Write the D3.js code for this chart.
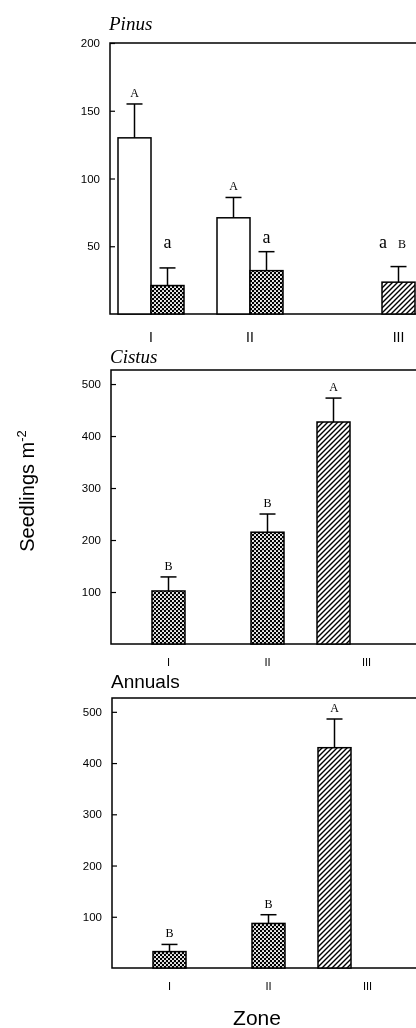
<!DOCTYPE html>
<html>
<head>
<meta charset="utf-8">
<title>Seedlings per zone</title>
<style>
body { margin: 0; background: #fff; }
svg { will-change: transform; }
text { fill: #000; }
</style>
<script src="https://cdn.jsdelivr.net/npm/d3@7"></script>
</head>
<body>
<div id="chart"></div>
<script>
// values (seedlings per m2), upper error in same units
var zones = ["I", "II", "III"];

var pinusOpen = [130, 71, 0];
var pinusOpenErr = [155, 86, null];
var pinusOpenLetters = ["A", "A", ""];
var pinusCross = [21, 32, 0];
var pinusCrossErr = [34, 46, null];
var pinusCrossLetters = ["a", "a", ""];
var pinusHatch = [0, 0, 23.5];
var pinusHatchErr = [null, null, 35];
var pinusHatchLetters = ["", "", "aB"];

var cistusVals = [102, 215, 427];
var cistusErr = [129, 250, 473];
var cistusLetters = ["B", "B", "A"];

var annualVals = [32, 87, 430];
var annualErr = [46, 104, 486];
var annualLetters = ["B", "B", "A"];

var pinusTicks = [50, 100, 150, 200];
var otherTicks = [100, 200, 300, 400, 500];

var W = 416, H = 1028;
var svg = d3.select("#chart").append("svg")
    .attr("width", W).attr("height", H);

var defs = svg.append("defs");
var cross = defs.append("pattern").attr("id", "cross")
    .attr("patternUnits", "userSpaceOnUse").attr("width", 4).attr("height", 4);
cross.append("rect").attr("width", 4).attr("height", 4).attr("fill", "#000");
cross.append("circle").attr("cx", 1).attr("cy", 1).attr("r", 1.05).attr("fill", "#fff");
cross.append("circle").attr("cx", 3).attr("cy", 3).attr("r", 1.05).attr("fill", "#fff");

var hatch = defs.append("pattern").attr("id", "hatch")
    .attr("patternUnits", "userSpaceOnUse").attr("width", 5).attr("height", 5);
hatch.append("rect").attr("width", 5).attr("height", 5).attr("fill", "#fff");
hatch.append("path").attr("d", "M0,5L5,0M-1,1L1,-1M4,6L6,4")
    .attr("stroke", "#000").attr("stroke-width", 1.4);

var fills = { open: "#fff", cross: "url(#cross)", hatch: "url(#hatch)" };

function panel(p) {
    var g = svg.append("g");
    var y = d3.scaleLinear().domain(p.domain).range([p.bottom, p.top]);
    // bar slots, 33px each, starting 8px right of the axis
    var x = d3.scaleLinear().domain([0, 1]).range([p.left + 8, p.left + 41]);

    g.append("rect")
        .attr("x", p.left).attr("y", p.top)
        .attr("width", W + 10 - p.left).attr("height", p.bottom - p.top)
        .attr("fill", "none").attr("stroke", "#000").attr("stroke-width", 1.5);

    var axis = d3.axisLeft(y).tickValues(p.ticks).tickSizeInner(-5).tickSizeOuter(0).tickPadding(10);
    var ax = g.append("g").attr("transform", "translate(" + p.left + ",0)").call(axis);
    ax.select(".domain").remove();
    ax.selectAll("line").attr("stroke-width", 1.2);
    ax.selectAll("text").attr("font-family", "Liberation Sans, Arial, sans-serif")
        .attr("font-size", 11.5).attr("fill", "#000");

    g.append("text").attr("x", p.left - 1).attr("y", p.top + p.titleDy)
        .attr("font-family", p.titleFont).attr("font-style", p.titleStyle)
        .attr("font-size", p.titleSize).text(p.title);

    p.series.forEach(function(s) {
        s.values.forEach(function(v, i) {
            var slot = i * 3 + s.slotOf(i);
            var x0 = x(slot), x1 = x(slot + 1), cx = (x0 + x1) / 2;
            if (v > 0) {
                g.append("rect")
                    .attr("x", x0).attr("y", y(v))
                    .attr("width", x1 - x0).attr("height", y(0) - y(v))
                    .attr("fill", fills[s.kind(i)]).attr("stroke", "#000").attr("stroke-width", 1.5);
            }
            var e = s.err[i];
            if (e != null) {
                g.append("line").attr("x1", cx).attr("x2", cx).attr("y1", y(v)).attr("y2", y(e))
                    .attr("stroke", "#000").attr("stroke-width", 1.5);
                g.append("line").attr("x1", cx - 8).attr("x2", cx + 8).attr("y1", y(e)).attr("y2", y(e))
                    .attr("stroke", "#000").attr("stroke-width", 1.5);
            }
            var lab = s.letters[i];
            if (!lab) return;
            var top = e != null ? y(e) : y(v);
            var t = g.append("text").attr("x", cx).attr("y", top - 7 + (s.letterDy ? s.letterDy[i] : 0))
                .attr("text-anchor", "middle").attr("font-family", "Liberation Serif, Times New Roman, serif");
            if (lab === "aB") {
                t.attr("x", cx - 6).attr("y", top - 19);
                t.append("tspan").attr("font-size", 18).text("a");
                t.append("tspan").attr("font-size", 12).attr("dx", 11).text("B");
            } else if (lab === "a") {
                t.attr("font-size", 18).text(lab);
            } else {
                t.attr("font-size", 12).text(lab);
            }
        });
    });

    g.selectAll(".zone").data(zones).enter().append("text")
        .attr("x", function(d, i) { return x(p.zoneAt[i]); })
        .attr("y", p.bottom + p.zoneDy)
        .attr("text-anchor", "middle")
        .attr("font-family", "Liberation Sans, Arial, sans-serif")
        .attr("font-size", p.zoneSize)
        .text(function(d) { return d; });
}

panel({
    title: "Pinus", titleFont: "Liberation Serif, Times New Roman, serif", titleStyle: "italic",
    titleSize: 19, titleDy: -13,
    left: 110, top: 43, bottom: 314, domain: [0, 200], ticks: pinusTicks,
    zoneAt: [1, 4, 8.5], zoneDy: 28, zoneSize: 14,
    series: [
        { values: pinusOpen, err: pinusOpenErr, letters: pinusOpenLetters,
          slotOf: function() { return 0; }, kind: function() { return "open"; } },
        { values: pinusCross, err: pinusCrossErr, letters: pinusCrossLetters, letterDy: [-13, -2, 0],
          slotOf: function() { return 1; }, kind: function() { return "cross"; } },
        { values: pinusHatch, err: pinusHatchErr, letters: pinusHatchLetters,
          slotOf: function() { return 2; }, kind: function() { return "hatch"; } }
    ]
});

var otherKind = function(i) { return i === 2 ? "hatch" : "cross"; };

panel({
    title: "Cistus", titleFont: "Liberation Serif, Times New Roman, serif", titleStyle: "italic",
    titleSize: 19, titleDy: -7,
    left: 111, top: 370, bottom: 644, domain: [0, 527], ticks: otherTicks,
    zoneAt: [1.5, 4.5, 7.5], zoneDy: 22, zoneSize: 11,
    series: [
        { values: cistusVals, err: cistusErr, letters: cistusLetters,
          slotOf: function(i) { return i === 2 ? 0 : 1; }, kind: otherKind }
    ]
});

panel({
    title: "Annuals", titleFont: "Liberation Sans, Arial, sans-serif", titleStyle: "normal",
    titleSize: 19, titleDy: -10,
    left: 112, top: 698, bottom: 968, domain: [0, 527], ticks: otherTicks,
    zoneAt: [1.5, 4.5, 7.5], zoneDy: 22, zoneSize: 11,
    series: [
        { values: annualVals, err: annualErr, letters: annualLetters,
          slotOf: function(i) { return i === 2 ? 0 : 1; }, kind: otherKind }
    ]
});

svg.append("text").attr("x", 257).attr("y", 1025)
    .attr("text-anchor", "middle").attr("font-family", "Liberation Sans, Arial, sans-serif")
    .attr("font-size", 21).text("Zone");

var yt = svg.append("text")
    .attr("transform", "translate(34,491) rotate(-90)")
    .attr("text-anchor", "middle").attr("font-family", "Liberation Sans, Arial, sans-serif")
    .attr("font-size", 20);
yt.append("tspan").text("Seedlings m");
yt.append("tspan").attr("font-size", 13).attr("dy", -8).text("-2");
</script>
</body>
</html>
